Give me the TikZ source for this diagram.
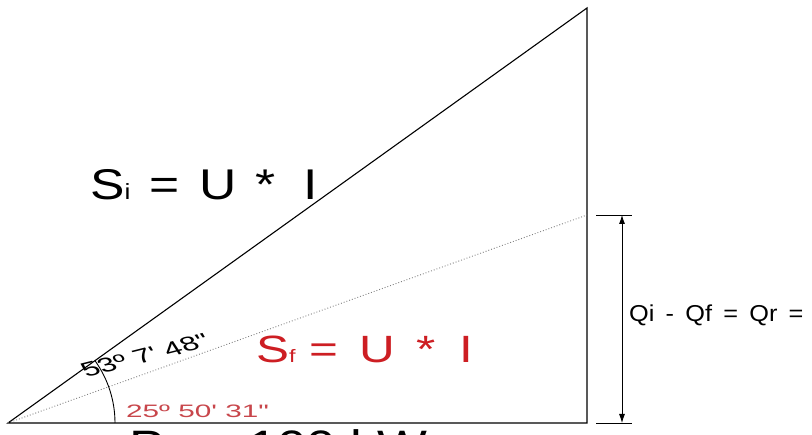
\documentclass[tikz,border=0pt]{standalone}
\usepackage{fontspec}
\setmainfont{Liberation Sans}[Ligatures=TeXOff]
\usepackage{graphicx}
\usepackage{tikz}
\usepackage{xcolor}
\usetikzlibrary{arrows.meta}
\definecolor{sred}{RGB}{205,30,35}
\definecolor{ared}{RGB}{200,70,75}
\newcommand{\fs}[1]{\fontsize{#1}{#1}\selectfont}

\begin{document}
\begin{tikzpicture}[x=1pt,y=1pt,every node/.style={inner sep=0pt}]
			\clip (0,0) rectangle (812,435);
			\fill[white] (0,0) rectangle (812,435);
			\coordinate (A) at (8,12);
			\coordinate (B) at (587,12);
			\coordinate (C) at (587,427);
			\coordinate (D) at (587,220);
			\draw[line width=1.1pt] (A) -- (B) -- (C) -- cycle;
			\draw[dotted,gray,line width=0.9pt] (A) -- (D);
			\draw[line width=0.9pt] (115,12) arc[start angle=0,end angle=35.63,radius=107];
			% dimension of Qr
			\coordinate (t1) at (596,220); \coordinate (t2) at (632,220);
			\coordinate (b1) at (596,12); \coordinate (b2) at (632,12);
			\draw[line width=0.8pt] (t1) -- (t2);
			\draw[line width=0.8pt] (b1) -- (b2);
			\draw[line width=0.8pt,{Latex[length=9pt,width=6pt]}-{Latex[length=9pt,width=6pt]}] (622,220) -- (622,12);
			\node[anchor=base west,font=\fs{23}] (qr) at (629,113) {\scalebox{1.1}[1]{Qi\, -\, Qf\, =\, Qr\, =}};
			% labels
			\node[anchor=base west,font=\fs{43}] (si) at (90,235)
				{\scalebox{1.2}[1]{S{\fs{22}i}\hspace{16pt}=\hspace{16pt}U\hspace{16pt}*\hspace{23pt}I}};
			\node[anchor=base west,text=sred,font=\fs{38}] (sf) at (256,72)
				{\scalebox{1.3}[1]{S{\fs{18}f}\hspace{11pt}=\hspace{16pt}U\hspace{16pt}*\hspace{19pt}I}};
			\begin{scope}[shift={(86,57)},xscale=1.6,rotate=22]
				\node[anchor=base west,transform shape,font=\fs{20}] (phi1) at (0,0) {53º 7' 48"};
			\end{scope}
			\node[anchor=base west,text=ared,font=\fs{18}] (phi2) at (126,17)
				{\scalebox{1.65}[1]{25º 50' 31"}};
			\node[anchor=base west,font=\fs{44}] (p) at (129,-26.5)
				{\scalebox{1.2}[1]{P\hspace{17pt}=\hspace{27pt}100 kW}};
		\end{tikzpicture}
\end{document}
